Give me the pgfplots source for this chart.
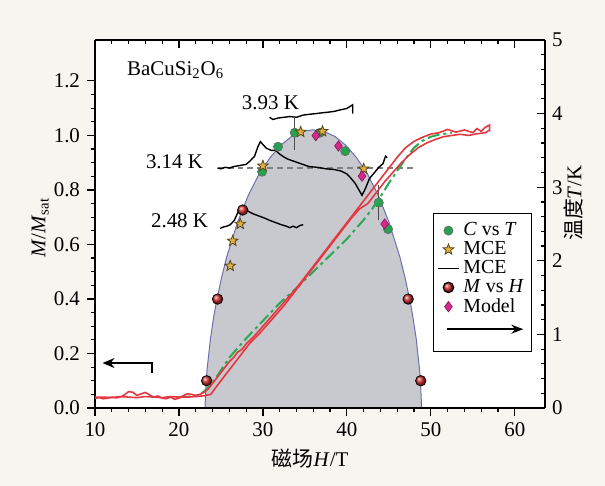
\documentclass[border=0pt]{standalone}
\usepackage{pgfplots}
\pgfplotsset{compat=1.18}
\usepackage{fontspec}
\setmainfont{Liberation Serif}
\newfontfamily\cjk{Noto Sans CJK SC}
\usetikzlibrary{arrows.meta}

\definecolor{cream}{RGB}{248,245,240}
\definecolor{domefill}{RGB}{200,200,207}
\definecolor{domeline}{RGB}{110,110,175}
\definecolor{gpt}{RGB}{40,160,80}
\definecolor{starfill}{RGB}{225,175,70}
\definecolor{stardraw}{RGB}{90,70,20}
\definecolor{ballred}{RGB}{205,45,45}
\definecolor{mag}{RGB}{215,40,140}
\definecolor{redc}{RGB}{228,55,65}
\definecolor{greenc}{RGB}{40,170,80}

\pgfdeclareplotmark{fstar}{%
  \pgfpathmoveto{\pgfpointpolar{90}{\pgfplotmarksize}}%
  \pgfpathlineto{\pgfpointpolar{126}{0.42\pgfplotmarksize}}%
  \pgfpathlineto{\pgfpointpolar{162}{\pgfplotmarksize}}%
  \pgfpathlineto{\pgfpointpolar{198}{0.42\pgfplotmarksize}}%
  \pgfpathlineto{\pgfpointpolar{234}{\pgfplotmarksize}}%
  \pgfpathlineto{\pgfpointpolar{270}{0.42\pgfplotmarksize}}%
  \pgfpathlineto{\pgfpointpolar{306}{\pgfplotmarksize}}%
  \pgfpathlineto{\pgfpointpolar{342}{0.42\pgfplotmarksize}}%
  \pgfpathlineto{\pgfpointpolar{18}{\pgfplotmarksize}}%
  \pgfpathlineto{\pgfpointpolar{54}{0.42\pgfplotmarksize}}%
  \pgfpathclose
  \pgfusepathqfillstroke
}

\newcommand{\fs}{\fontsize{10.5}{12}\selectfont}

\begin{document}
\begin{tikzpicture}
\path[use as bounding box, fill=cream] (-47.5bp,-39bp) rectangle (255bp,204bp);

% ---------------- temperature axis (right) ----------------
\begin{axis}[
  scale only axis, width=225bp, height=184bp,
  xmin=10, xmax=63.6, ymin=0, ymax=5,
  axis x line*=top, axis y line*=right,
  axis line style={line width=0.8pt, black, -},
  xtick={10,20,30,40,50,60}, xticklabels={}, minor x tick num=4,
  ytick={0,1,2,3,4,5}, minor y tick num=4,
  tick align=inside,
  major tick length=4bp, minor tick length=2.2bp,
  tick style={line width=0.6pt, black},
  ticklabel style={font=\fs},
  /pgf/number format/assume math mode=true,
  ylabel={{\cjk 温度}\textit{T}/K},
  every axis y label/.style={at={(axis description cs:1.063,0.557)}, rotate=90, anchor=center, font=\fs},
  axis background/.style={fill=white},
  legend style={at={(0.751,0.53)}, anchor=north west, draw=black, line width=0.6pt, fill=white,
    font=\fontsize{10}{11}\selectfont, legend cell align=left, row sep=-2.6pt, inner xsep=2pt, inner ysep=2.5pt},
  legend image code/.code={\draw[mark repeat=2,mark phase=2,#1] plot coordinates {(0cm,0cm) (0.18cm,0cm) (0.36cm,0cm)};},
]
% dome
\addplot[fill=domefill, draw=domeline, line width=0.5pt, forget plot] table {
x y
23.10 0.00
23.23 0.36
23.36 0.54
23.75 0.94
24.13 1.23
24.39 1.40
25.03 1.75
25.68 2.05
26.97 2.52
28.26 2.89
29.55 3.18
30.84 3.40
32.13 3.57
33.42 3.69
34.71 3.757
36.00 3.78
37.29 3.757
38.58 3.69
39.87 3.57
41.16 3.40
42.45 3.18
43.74 2.89
45.03 2.52
46.32 2.05
46.97 1.75
47.61 1.40
47.87 1.23
48.26 0.94
48.64 0.54
48.77 0.36
48.90 0.00
} \closedcycle;
% dashed line 3.14 K
\addplot[gray, dash pattern=on 3pt off 2pt, line width=0.8pt, forget plot] coordinates {(24.6,3.26) (47.9,3.26)};
% MCE traces
\addplot[black, line width=0.7pt, forget plot] table {
x y
30.8 3.95
31.2 3.92
31.8 3.94
32.5 3.95
33.2 3.96
34.0 3.95
34.8 3.98
35.5 3.99
36.3 4.00
37.0 4.01
37.8 4.02
38.5 4.03
39.2 4.05
40.0 4.07
40.7 4.12
40.7 4.00
};
\addplot[black, line width=0.7pt, forget plot] table {
x y
24.6 3.26
25.0 3.25
25.5 3.27
26.0 3.26
26.5 3.28
27.0 3.29
27.5 3.30
28.0 3.31
28.5 3.36
29.0 3.42
29.4 3.55
29.7 3.62
30.0 3.58
30.4 3.53
31.0 3.50
31.5 3.50
32.0 3.45
32.5 3.41
33.0 3.38
33.5 3.36
34.5 3.32
35.5 3.28
36.5 3.27
37.5 3.25
38.5 3.24
39.3 3.22
40.0 3.18
40.5 3.12
41.0 3.05
41.5 2.95
41.8 2.89
42.2 2.98
42.7 3.12
43.3 3.20
43.8 3.27
44.3 3.32
44.6 3.42
44.8 3.40
};
\addplot[black, line width=0.7pt, forget plot] table {
x y
24.9 2.44
25.3 2.46
25.7 2.47
26.1 2.49
26.6 2.55
27.1 2.68
27.4 2.73
27.8 2.70
28.3 2.67
28.8 2.64
29.5 2.61
30.2 2.58
30.8 2.55
31.5 2.52
32.2 2.49
32.8 2.47
33.2 2.45
33.6 2.47
34.0 2.45
34.4 2.48
34.8 2.49
};
% error bars
\addplot[only marks, mark=none, forget plot, black!70,
  error bars/.cd, y dir=both, y explicit,
  error bar style={black!70, line width=0.5pt},
  error mark options={black!70, mark size=2.5bp, line width=0.5pt}] table[y error=e] {
x y e
33.8 3.74 0.16
43.8 2.79 0.17
};
% C vs T
\addplot[only marks, mark=*, mark size=2.3bp, mark options={fill=gpt, draw=black!60, line width=0.3pt}, forget plot] table {
x y
29.9 3.21
31.8 3.55
33.8 3.74
36.8 3.74
39.8 3.49
43.8 2.79
44.9 2.43
};
% MCE stars
\addplot[only marks, mark=fstar, mark size=2.8bp, mark options={fill=starfill, draw=stardraw, line width=0.4pt}, forget plot] table {
x y
26.1 1.93
26.4 2.27
27.3 2.50
30.0 3.29
34.5 3.75
37.1 3.76
42.0 3.25
};
% Model diamonds
\addplot[only marks, mark=diamond*, mark size=2.6bp, mark options={fill=mag, draw=mag!60!black, line width=0.3pt}, forget plot] table {
x y
36.3 3.70
39.0 3.56
41.8 3.15
44.5 2.50
};
% M vs H balls
\addplot[only marks, mark=ball, ball color=ballred, mark size=2.6bp, forget plot] table {
x y
23.3 0.37
24.6 1.48
27.6 2.69
47.3 1.48
48.8 0.37
};
% labels
\node[font=\fs, anchor=base west] at (axis cs:13.0,4.52) {BaCuSi\textsubscript{2}O\textsubscript{6}};
\node[font=\fs, anchor=base west] at (axis cs:26.67,4.06) {3.93 K};
\node[font=\fs, anchor=base east] at (axis cs:23.7,3.25) {3.14 K};
\node[font=\fs, anchor=base east] at (axis cs:24.3,2.45) {2.48 K};
% legend
\addlegendimage{only marks, mark=*, mark size=2.3bp, mark options={fill=gpt, draw=black!60, line width=0.3pt}}
\addlegendentry{\textit{C} vs \textit{T}}
\addlegendimage{only marks, mark=fstar, mark size=2.8bp, mark options={fill=starfill, draw=stardraw, line width=0.4pt}}
\addlegendentry{MCE}
\addlegendimage{black, line width=0.7pt}
\addlegendentry{MCE}
\addlegendimage{only marks, mark=ball, ball color=ballred, mark size=2.6bp}
\addlegendentry{\textit{M} vs \textit{H}}
\addlegendimage{only marks, mark=diamond*, mark size=2.6bp, mark options={fill=mag, draw=mag!60!black, line width=0.3pt}}
\addlegendentry{Model}
\addlegendimage{legend image code/.code={\draw[overlay, black, line width=0.8pt, -{Stealth[length=6pt,width=4.5pt]}] (0.15cm,0.02cm) -- (1.5cm,0.02cm);}}
\addlegendentry{\rule{0pt}{11pt}}
\end{axis}

% ---------------- magnetization axis (left) ----------------
\begin{axis}[
  scale only axis, width=225bp, height=184bp,
  xmin=10, xmax=63.6, ymin=0, ymax=1.35,
  axis x line*=bottom, axis y line*=left,
  axis line style={line width=0.8pt, black, -},
  xtick={10,20,30,40,50,60}, minor x tick num=4,
  ytick={0,0.2,0.4,0.6,0.8,1.0,1.2}, minor y tick num=3,
  yticklabel style={/pgf/number format/.cd, fixed, fixed zerofill, precision=1},
  tick align=outside,
  major tick length=4bp, minor tick length=2.2bp,
  tick style={line width=0.6pt, black},
  ticklabel style={font=\fs},
  /pgf/number format/assume math mode=true,
  xlabel={{\cjk 磁场}\textit{H}/T},
  ylabel={\textit{M}/\textit{M}\textsubscript{sat}},
  every axis x label/.style={at={(axis description cs:0.478,-0.136)}, anchor=center, font=\fs},
  every axis y label/.style={at={(axis description cs:-0.122,0.49)}, rotate=90, anchor=center, font=\fs},
]
% green dash-dot
\addplot[greenc, line width=1pt, dash pattern=on 6pt off 2pt on 1.5pt off 2pt] table {
x y
20.0 0.040
21.5 0.042
22.5 0.048
23.5 0.075
24.5 0.115
26.0 0.185
28.0 0.255
30.0 0.320
32.0 0.385
34.0 0.440
36.0 0.500
38.0 0.560
40.0 0.620
42.0 0.690
43.0 0.730
44.0 0.775
45.0 0.825
46.0 0.870
47.0 0.915
48.0 0.955
49.0 0.980
50.0 0.995
51.0 1.003
52.5 1.010
};
% red curve A
\addplot[redc, line width=0.8pt] table {
x y
10.0 0.035
10.5 0.038
11.0 0.034
11.5 0.036
12.0 0.040
12.5 0.037
13.0 0.040
13.5 0.048
14.0 0.060
14.5 0.058
15.0 0.046
15.5 0.052
16.0 0.057
16.5 0.048
17.0 0.040
17.5 0.044
18.0 0.036
18.5 0.034
19.0 0.040
19.5 0.032
20.0 0.036
20.5 0.045
21.0 0.052
21.5 0.050
22.0 0.046
22.5 0.050
23.0 0.058
23.5 0.070
24.0 0.090
25.0 0.130
26.0 0.170
26.5 0.185
27.0 0.205
27.5 0.215
28.0 0.235
29.0 0.265
30.0 0.300
31.0 0.335
32.0 0.370
33.0 0.405
34.0 0.440
35.0 0.480
36.0 0.520
37.0 0.560
38.0 0.600
39.0 0.640
40.0 0.680
41.0 0.720
42.0 0.760
43.0 0.800
44.0 0.840
45.0 0.880
46.0 0.920
47.0 0.955
48.0 0.978
49.0 0.993
50.0 1.005
51.0 1.010
52.0 1.022
53.0 1.012
54.0 1.020
55.0 1.010
55.5 1.025
56.0 1.015
56.5 1.030
57.0 1.038
57.0 1.015
};
% red curve B
\addplot[redc, line width=0.8pt] table {
x y
10.0 0.040
11.0 0.040
12.0 0.038
13.0 0.042
14.0 0.040
15.0 0.038
16.0 0.042
17.0 0.040
18.0 0.038
19.0 0.042
20.0 0.040
21.0 0.040
22.0 0.042
23.0 0.045
23.8 0.050
24.5 0.080
25.5 0.120
26.5 0.160
27.5 0.200
28.5 0.240
29.5 0.270
30.5 0.305
31.5 0.340
32.5 0.375
33.5 0.415
34.5 0.455
35.5 0.495
36.5 0.535
37.5 0.575
38.5 0.615
39.5 0.655
40.5 0.695
41.5 0.730
42.5 0.750
43.5 0.790
44.5 0.830
45.5 0.865
46.5 0.900
47.5 0.930
48.5 0.955
49.5 0.972
50.5 0.985
51.5 0.995
52.5 1.000
53.5 1.004
54.5 1.000
55.5 1.006
56.5 1.010
57.0 1.020
};
% left arrow
\draw[black, line width=1pt, -{Stealth[length=6pt,width=5pt]}] (axis cs:16.8,0.13) -- (axis cs:16.8,0.165) -- (axis cs:10.9,0.165);
\end{axis}
\end{tikzpicture}
\end{document}
